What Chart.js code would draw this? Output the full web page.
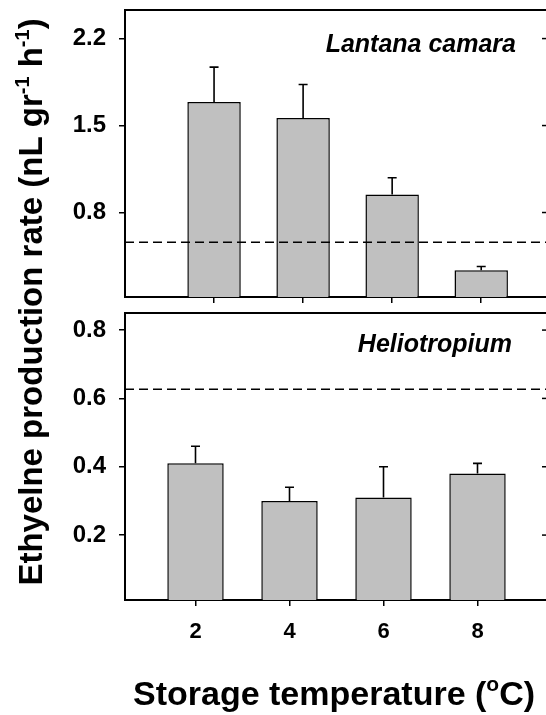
<!DOCTYPE html>
<html>
<head>
<meta charset="utf-8">
<script src="https://cdn.jsdelivr.net/npm/chart.js@4.4.1/dist/chart.umd.min.js"></script>
<style>
    html, body { margin: 0; padding: 0; background: #fff; overflow: hidden; }
    #wrap { position: relative; width: 546px; height: 715px; overflow: hidden; }
    .layer { position: absolute; left: 0; top: 0; }
</style>
</head>
<body>
<div id="wrap">
    <canvas id="lantana" class="layer" width="560" height="715"></canvas>
    <canvas id="helio" class="layer" width="560" height="715"></canvas>
</div>
<script>
/* Ethylene production of two species after storage at 2-8 °C */
const temps = [2, 4, 6, 8];

const lantanaRate = [1.69, 1.56, 0.945, 0.335];
const lantanaErr = [0.28, 0.27, 0.135, 0.03];
const lantanaControl = 0.56;
const lantanaTicks = [0.8, 1.5, 2.2];

const helioRate = [0.41, 0.30, 0.31, 0.38];
const helioErr = [0.05, 0.04, 0.09, 0.03];
const helioControl = 0.627;
const helioTicks = [0.2, 0.4, 0.6, 0.8];

const FONT = 'Arial, "Liberation Sans", Helvetica, sans-serif';
Chart.defaults.font.family = FONT;
Chart.defaults.color = '#000';

// text made of runs, some of them superscript; centred on x
function drawRich(ctx, runs, x, y, size) {
    const parts = runs.map(r => {
        const s = r.sup ? Math.round(size * 0.62) : size;
        ctx.font = `bold ${s}px ${FONT}`;
        return { ...r, s, w: ctx.measureText(r.text).width };
    });
    let cx = x - parts.reduce((t, p) => t + p.w, 0) / 2;
    ctx.textAlign = 'left';
    ctx.textBaseline = 'alphabetic';
    parts.forEach(p => {
        ctx.font = `bold ${p.s}px ${FONT}`;
        ctx.fillText(p.text, cx, p.sup ? y - size * 0.4 : y);
        cx += p.w;
    });
}

const panelExtras = {
    id: 'panelExtras',
    afterDatasetsDraw(chart, args, o) {
        const { ctx, chartArea: a, scales: { y } } = chart;
        const meta = chart.getDatasetMeta(0);
        ctx.save();
        ctx.strokeStyle = '#000';
        ctx.fillStyle = '#000';

        // upper error bars
        ctx.lineWidth = 1.6;
        meta.data.forEach((bar, i) => {
            const v = o.values[i];
            const top = y.getPixelForValue(v + o.errors[i]);
            ctx.beginPath();
            ctx.moveTo(bar.x, y.getPixelForValue(v));
            ctx.lineTo(bar.x, top);
            ctx.moveTo(bar.x - 4.5, top);
            ctx.lineTo(bar.x + 4.5, top);
            ctx.stroke();
        });

        // control level
        const cy = y.getPixelForValue(o.control);
        ctx.setLineDash([9, 5]);
        ctx.lineWidth = 1.5;
        ctx.beginPath();
        ctx.moveTo(a.left, cy);
        ctx.lineTo(a.right, cy);
        ctx.stroke();
        ctx.setLineDash([]);

        // top and right frame with inward ticks
        ctx.lineWidth = 2;
        ctx.beginPath();
        ctx.moveTo(a.left, a.top);
        ctx.lineTo(a.right, a.top);
        ctx.lineTo(a.right, a.bottom);
        ctx.stroke();
        ctx.lineWidth = 1.5;
        y.ticks.forEach(t => {
            const py = y.getPixelForValue(t.value);
            ctx.beginPath();
            ctx.moveTo(a.right - 6, py);
            ctx.lineTo(a.right, py);
            ctx.stroke();
        });

        ctx.font = `italic bold 25px ${FONT}`;
        ctx.textAlign = 'right';
        ctx.textBaseline = 'alphabetic';
        ctx.fillText(o.label, o.labelX, o.labelY);

        if (o.yTitle) {
            ctx.save();
            ctx.translate(42, 302);
            ctx.rotate(-Math.PI / 2);
            drawRich(ctx, o.yTitle, 0, 0, 33);
            ctx.restore();
        }
        if (o.xTitle) drawRich(ctx, o.xTitle, 334, 705, 34);
        ctx.restore();
    }
};

function panel(id, p) {
    return new Chart(document.getElementById(id), {
        type: 'bar',
        data: {
            datasets: [{
                data: temps.map((t, i) => ({ x: t, y: p.values[i] })),
                backgroundColor: '#c0c0c0',
                borderColor: '#000',
                borderWidth: 1.5,
                barPercentage: 0.6,
                categoryPercentage: 1,
            }]
        },
        options: {
            responsive: false,
            animation: false,
            layout: { padding: p.padding },
            plugins: {
                legend: { display: false },
                tooltip: { enabled: false },
                panelExtras: p,
            },
            scales: {
                x: {
                    type: 'linear',
                    offset: false,
                    min: p.xMin,
                    max: 9.5,
                    afterBuildTicks: s => { s.ticks = temps.map(v => ({ value: v })); },
                    afterFit: s => {
                        s.height = p.xHeight;
                        s.paddingLeft = 0;
                        s.paddingRight = 0;
                    },
                    ticks: {
                        display: p.xLabels,
                        padding: 13,
                        font: { size: 22, weight: 'bold' },
                        callback: v => String(v),
                    },
                    grid: { offset: false, drawOnChartArea: false, tickLength: 6, color: '#000', lineWidth: 1.5 },
                    border: { color: '#000', width: 2 },
                },
                y: {
                    min: p.yMin,
                    max: p.yMax,
                    afterBuildTicks: s => { s.ticks = p.yTicks.map(v => ({ value: v })); },
                    afterFit: s => {
                        s.width = 125;
                        s.paddingTop = 0;
                        s.paddingBottom = 0;
                    },
                    ticks: {
                        padding: 13,
                        font: { size: 24, weight: 'bold' },
                        callback: v => v.toFixed(1),
                    },
                    grid: { drawOnChartArea: false, tickLength: 6, color: '#000', lineWidth: 1.5 },
                    border: { color: '#000', width: 2 },
                }
            }
        },
        plugins: [panelExtras]
    });
}

panel('lantana', {
    values: lantanaRate,
    errors: lantanaErr,
    control: lantanaControl,
    yTicks: lantanaTicks,
    yMin: 0.12, yMax: 2.43,
    xMin: 0,
    xHeight: 23,
    xLabels: false,
    padding: { top: 10, right: 12, bottom: 395, left: 0 },
    label: 'Lantana camara', labelX: 516, labelY: 52,
    yTitle: [
        { text: 'Ethyelne production rate (nL gr' },
        { text: '-1', sup: true },
        { text: ' h' },
        { text: '-1', sup: true },
        { text: ')' },
    ],
});

panel('helio', {
    values: helioRate,
    errors: helioErr,
    control: helioControl,
    yTicks: helioTicks,
    yMin: 0.01, yMax: 0.85,
    xMin: 0.5,
    xHeight: 115,
    xLabels: true,
    padding: { top: 313, right: 12, bottom: 0, left: 0 },
    label: 'Heliotropium', labelX: 512, labelY: 352,
    xTitle: [
        { text: 'Storage temperature (' },
        { text: 'o', sup: true },
        { text: 'C)' },
    ],
});
</script>
</body>
</html>
